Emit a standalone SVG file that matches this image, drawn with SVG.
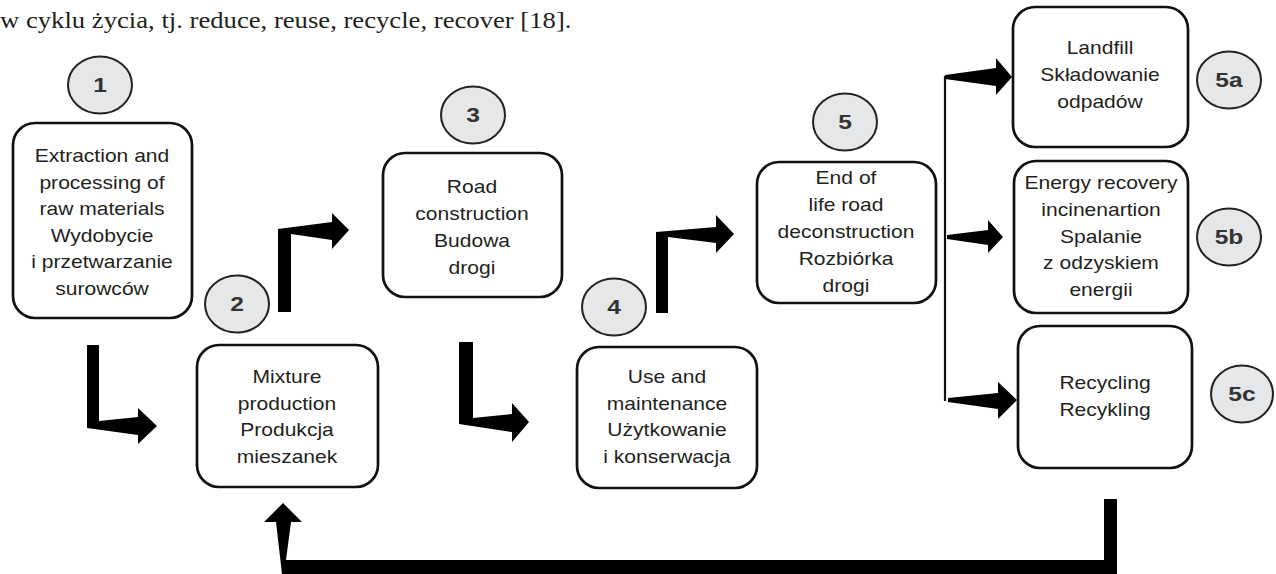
<svg xmlns="http://www.w3.org/2000/svg" width="1276" height="574" viewBox="0 0 1276 574">
<style>
.box{fill:#fff;stroke:#111;stroke-width:2.7}
.num{fill:#e6e7e8;stroke:#222;stroke-width:2}
.t{font-family:"Liberation Sans",Arial,sans-serif;font-size:18px;fill:#231f20;text-anchor:middle}
.n{font-family:"Liberation Sans",Arial,sans-serif;font-size:21px;font-weight:bold;fill:#333;text-anchor:middle}
.arr{fill:#000}
.serif{font-family:"Liberation Serif","Times New Roman",serif;font-size:23px;fill:#231f20}
</style>
<rect width="1276" height="574" fill="#fff"/>
<text class="serif" transform="matrix(1.16 0 0 1 0 0)" x="0" y="28">w cyklu życia, tj. reduce, reuse, recycle, recover [18].</text>

<g id="connectors">
<polygon class="arr" points="87,345 99,345 99,421 138,417 138,408 157,426 138,444 138,435 87,428"/>
<polygon class="arr" points="278,312 278,229 332,222 332,213 349,230 332,249 332,240 291,234 291,312"/>
<polygon class="arr" points="459,342 473,342 473,418 512,414 512,403 529,422 512,442 512,432 459,424"/>
<polygon class="arr" points="656,313 656,232 716,227 716,215 734,234 716,253 716,243 668,237 668,313"/>
<line x1="945" y1="76" x2="945" y2="401" stroke="#111" stroke-width="2.2"/>
<polygon class="arr" points="945,75 996,68 996,58 1012,77 996,95 996,86 945,79"/>
<polygon class="arr" points="947,235 988,230 988,220 1003,237 988,253 988,245 947,239"/>
<polygon class="arr" points="948,398 998,393 998,382 1017,400 998,419 998,409 948,402"/>
<polygon class="arr" points="283,503 302,522 291,522 286,560 1104,560 1104,499 1117,499 1117,574 282,574 276,522 264,522"/>
</g>

<g id="n1">
<rect class="box" x="13" y="123" width="179" height="195" rx="22"/>
<text class="t" transform="matrix(1.17 0 0 1 102 0)"><tspan x="0" y="162">Extraction and</tspan><tspan x="0" y="188.6">processing of</tspan><tspan x="0" y="215.2">raw materials</tspan><tspan x="0" y="241.8">Wydobycie</tspan><tspan x="0" y="268.4">i przetwarzanie</tspan><tspan x="0" y="295">surowców</tspan></text>
<ellipse class="num" cx="100" cy="85" rx="32" ry="28.5"/>
<text class="n" transform="matrix(1.17 0 0 1 100 0)" x="0" y="92.5">1</text>
</g>

<g id="n2">
<rect class="box" x="197" y="345" width="181" height="142" rx="22"/>
<text class="t" transform="matrix(1.17 0 0 1 287 0)"><tspan x="0" y="383">Mixture</tspan><tspan x="0" y="409.7">production</tspan><tspan x="0" y="436.3">Produkcja</tspan><tspan x="0" y="463">mieszanek</tspan></text>
<ellipse class="num" cx="237" cy="304" rx="32" ry="28.5"/>
<text class="n" transform="matrix(1.17 0 0 1 237 0)" x="0" y="311.5">2</text>
</g>

<g id="n3">
<rect class="box" x="383" y="153" width="179" height="144" rx="22"/>
<text class="t" transform="matrix(1.17 0 0 1 472 0)"><tspan x="0" y="193">Road</tspan><tspan x="0" y="220">construction</tspan><tspan x="0" y="247">Budowa</tspan><tspan x="0" y="274">drogi</tspan></text>
<ellipse class="num" cx="473" cy="115" rx="32" ry="28.5"/>
<text class="n" transform="matrix(1.17 0 0 1 473 0)" x="0" y="122.5">3</text>
</g>

<g id="n4">
<rect class="box" x="577" y="347" width="180" height="141" rx="22"/>
<text class="t" transform="matrix(1.17 0 0 1 667 0)"><tspan x="0" y="383">Use and</tspan><tspan x="0" y="409.7">maintenance</tspan><tspan x="0" y="436.3">Użytkowanie</tspan><tspan x="0" y="463">i konserwacja</tspan></text>
<ellipse class="num" cx="614" cy="307" rx="32" ry="28.5"/>
<text class="n" transform="matrix(1.17 0 0 1 614 0)" x="0" y="314.5">4</text>
</g>

<g id="n5">
<rect class="box" x="757" y="162" width="179" height="141" rx="22"/>
<text class="t" transform="matrix(1.17 0 0 1 846 0)"><tspan x="0" y="184">End of</tspan><tspan x="0" y="211">life road</tspan><tspan x="0" y="238">deconstruction</tspan><tspan x="0" y="265">Rozbiórka</tspan><tspan x="0" y="292">drogi</tspan></text>
<ellipse class="num" cx="845" cy="122" rx="32" ry="28.5"/>
<text class="n" transform="matrix(1.17 0 0 1 845 0)" x="0" y="129.5">5</text>
</g>

<g id="n5a">
<rect class="box" x="1013" y="7" width="175" height="140" rx="22"/>
<text class="t" transform="matrix(1.17 0 0 1 1100 0)"><tspan x="0" y="54">Landfill</tspan><tspan x="0" y="81">Składowanie</tspan><tspan x="0" y="108">odpadów</tspan></text>
<ellipse class="num" cx="1229" cy="80" rx="32" ry="28.5"/>
<text class="n" transform="matrix(1.17 0 0 1 1229 0)" x="0" y="87.5">5a</text>
</g>

<g id="n5b">
<rect class="box" x="1014" y="161" width="174" height="152" rx="22"/>
<text class="t" transform="matrix(1.17 0 0 1 1101 0)"><tspan x="0" y="189">Energy recovery</tspan><tspan x="0" y="216">incinenartion</tspan><tspan x="0" y="243">Spalanie</tspan><tspan x="0" y="269.5">z odzyskiem</tspan><tspan x="0" y="296">energii</tspan></text>
<ellipse class="num" cx="1229" cy="237" rx="32" ry="28.5"/>
<text class="n" transform="matrix(1.17 0 0 1 1229 0)" x="0" y="244.5">5b</text>
</g>

<g id="n5c">
<rect class="box" x="1018" y="326" width="174" height="142" rx="22"/>
<text class="t" transform="matrix(1.17 0 0 1 1105 0)"><tspan x="0" y="389">Recycling</tspan><tspan x="0" y="416">Recykling</tspan></text>
<ellipse class="num" cx="1242" cy="394" rx="31" ry="28.5"/>
<text class="n" transform="matrix(1.17 0 0 1 1242 0)" x="0" y="401.5">5c</text>
</g>
</svg>
